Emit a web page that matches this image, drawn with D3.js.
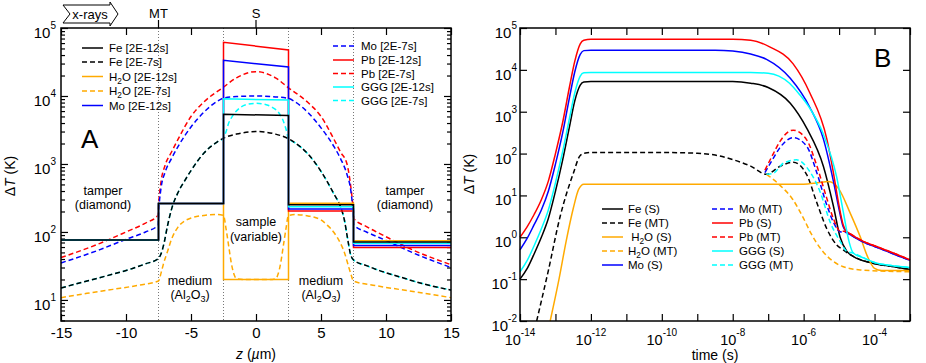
<!DOCTYPE html>
<html>
<head>
<meta charset="utf-8">
<script src="https://cdnjs.cloudflare.com/ajax/libs/d3/7.8.5/d3.min.js"></script>
<style>
  body { margin: 0; background: #fff; }
  svg { font-family: "Liberation Sans", Arial, Helvetica, sans-serif; }
</style>
</head>
<body>
<svg width="926" height="363"></svg>
<script>
/* panel A : temperature vs depth z (um), [z, dT] */
var feA12  = [[-15,76],[-7.5,76],[-7.5,263],[-2.5,263],[-2.5,5400],[2.5,5150],[2.5,252],[7.5,252],[7.5,71],[15,71]];
var h2oA12 = [[-15,76],[-7.5,76],[-7.5,263],[-2.5,263],[-2.5,20],[2.5,20],[2.5,265],[7.5,265],[7.5,74.5],[15,74.5]];
var moA12  = [[-15,76],[-7.5,76],[-7.5,263],[-2.5,263],[-2.5,33500],[2.5,26700],[2.5,218],[7.5,218],[7.5,63],[15,63]];
var pbA12  = [[-15,76],[-7.5,76],[-7.5,263],[-2.5,263],[-2.5,61700],[2.5,47500],[2.5,203],[7.5,203],[7.5,59],[15,59]];
var gggA12 = [[-15,76],[-7.5,76],[-7.5,263],[-2.5,263],[-2.5,9100],[2.5,8700],[2.5,235],[7.5,235],[7.5,68],[15,68]];

var feA7 = [[-15,15],[-13,19],[-11,24],[-9.5,29],[-8.5,34],[-7.55,40],[-7.3,48],[-7.1,65],[-6.8,125],[-6.5,215],
  [-6,380],[-5.5,560],[-5,800],[-4,1450],[-3,2100],[-2.5,2400],[-1.5,2750],[0,3000],[1.5,2750],[2.5,2350],
  [3,2050],[4,1400],[5,780],[5.5,540],[6,360],[6.5,235],[6.8,150],[7,90],[7.3,45],[7.55,38],[8.5,32],[9.5,27],
  [11,22],[13,17],[15,14]];
var gggA7 = [[-15,15],[-13,19],[-11,24],[-9.5,29],[-8.5,34],[-7.55,40],[-7.3,48],[-7.1,65],[-6.8,125],[-6.5,215],
  [-6,380],[-5.5,560],[-5,800],[-4,1450],[-3,2100],[-2.5,2400],[-2.3,3000],[-2.1,4000],[-1.8,5100],[-1.2,6800],
  [-0.6,7600],[0,7800],[0.6,7600],[1.2,6900],[1.8,5500],[2.1,4300],[2.3,3300],[2.5,2350],
  [3,2050],[4,1400],[5,780],[5.5,540],[6,360],[6.5,235],[6.8,150],[7,90],[7.3,45],[7.55,38],[8.5,32],[9.5,27],
  [11,22],[13,17],[15,14]];
var pbA7 = [[-15,42],[-12,68],[-10,100],[-8.5,135],[-7.55,175],[-7.45,320],[-7.3,560],[-7,950],[-6.5,1500],
  [-6,2300],[-5,5000],[-4,8200],[-2.5,13500],[-1.5,18500],[0,22800],[1.5,18500],[2.5,13200],[4,8000],
  [5,5000],[6,2300],[6.5,1500],[7,1000],[7.3,450],[7.45,250],[7.55,155],[8.5,120],[10,85],[12,55],[15,33]];
var moA7 = [[-15,35],[-12,55],[-10,78],[-8.5,100],[-7.55,125],[-7.45,250],[-7.3,450],[-7,750],[-6.5,1200],
  [-6,1800],[-5,3500],[-4,5800],[-3,8300],[-2.5,9300],[-1.5,9800],[0,10000],[1.5,9700],[2.5,9200],[3,8200],
  [4,5700],[5,3400],[6,1800],[6.5,1200],[7,700],[7.3,400],[7.45,220],[7.55,125],[8.5,100],[10,75],[12,50],[15,30]];
var h2oA7 = [[-15,10.8],[-13,12.5],[-11,14.3],[-9,16.5],[-7.5,19],[-7.3,25],[-7.1,35],[-6.8,52],[-6.5,78],
  [-6,118],[-5.5,145],[-5,160],[-4,175],[-3,180],[-2.5,175],[-2.3,110],[-2.1,62],[-1.9,35],[-1.7,24],
  [-1.5,20.5],[-1,20],[0,20],[1,20],[1.5,20.5],[1.7,24],[1.9,35],[2.1,62],[2.3,110],[2.5,175],[3,180],
  [4,172],[5,150],[5.5,125],[6,98],[6.5,68],[6.8,50],[7.1,32],[7.3,24],[7.5,19],[9,16.5],[11,14.3],
  [13,12.5],[15,10.8]];

/* panel B : temperature vs time (s), [t, dT] */
var feS = [[1e-14,0.1],[1.6e-14,0.18],[2.5e-14,0.4],[4e-14,1.0],[6.3e-14,2.8],[1e-13,12.6],[1.6e-13,71],
  [2.5e-13,450],[3.5e-13,1800],[5e-13,4300],[6.3e-13,5100],[1e-12,5250],[1e-8,5250],[3.2e-8,4800],
  [1e-7,3800],[4.2e-7,1600],[1.23e-6,400],[3.6e-6,50],[6.9e-6,5.6],[1.07e-5,1.0],[1.66e-5,0.46],
  [2.5e-5,0.35],[9e-5,0.24],[3.2e-4,0.2],[1e-3,0.17]];
var feMT = [[2.95e-14,0.01],[6.3e-14,0.16],[1.35e-13,3.1],[3.2e-13,34],[5e-13,90],[7e-13,103],[1e-12,106],
  [1e-10,106],[1e-9,102],[3.2e-9,92],[1e-8,72],[3.2e-8,50],[9e-8,32],[2.1e-7,49],[5.1e-7,62],[1.23e-6,31],
  [2.3e-6,7.1],[4.5e-6,1.6],[8.5e-6,0.66],[1.3e-5,0.5],[2.5e-5,0.35],[9e-5,0.24],[3.2e-4,0.2],[1e-3,0.17]];
var h2oS = [[7.1e-14,0.01],[1.26e-13,0.1],[2e-13,0.8],[3.2e-13,5],[4.5e-13,14],[6.3e-13,18.6],[1e-12,18.6],
  [1e-6,18.6],[2.5e-6,20],[5e-6,21.4],[1e-5,14],[2e-5,4],[4e-5,1.0],[6.3e-5,0.35],[1e-4,0.18],[1.6e-4,0.16],
  [1e-3,0.16]];
var h2oMT = [[9e-8,32],[2.1e-7,17.8],[5e-7,7.9],[1e-6,2.8],[1.6e-6,1.26],[3.2e-6,0.5],[6.3e-6,0.28],
  [1.26e-5,0.2],[4e-5,0.166],[1e-3,0.15]];
var moS = [[1e-14,0.5],[1.6e-14,0.95],[2.5e-14,2.0],[4e-14,4.5],[6.3e-14,12.6],[1e-13,56],[1.6e-13,316],
  [2.5e-13,2240],[3.5e-13,8900],[5e-13,23400],[6.3e-13,28800],[1e-12,29500],[3.2e-9,29500],[1e-8,28200],
  [3.2e-8,24000],[9e-8,17800],[4.2e-7,6300],[1.5e-6,1260],[3.6e-6,224],[6.9e-6,22],[1.07e-5,3.5],[1.3e-5,1.8],
  [1.6e-5,1.35],[2e-5,1.17],[5e-5,0.76],[1.15e-4,0.58],[3.4e-4,0.4],[1e-3,0.28]];
var moMT = [[8.1e-8,35],[1.4e-7,78],[2.1e-7,135],[5.1e-7,240],[1.23e-6,148],[2.3e-6,37],[4.5e-6,5.9],
  [6.9e-6,2.3],[1.07e-5,1.35],[1.6e-5,1.3],[2e-5,1.17],[5e-5,0.76],[1.15e-4,0.58],[3.4e-4,0.4],[1e-3,0.28]];
var pbS = [[1e-14,1.0],[1.6e-14,1.8],[2.5e-14,3.5],[4e-14,7.9],[6.3e-14,22],[1e-13,100],[1.6e-13,560],
  [2.5e-13,4000],[3.5e-13,16000],[5e-13,42000],[6.3e-13,51000],[1e-12,53700],[1e-8,53500],[3.2e-8,51000],
  [1.1e-7,35500],[5e-7,14100],[1.5e-6,2800],[4.5e-6,224],[6.9e-6,35],[9.5e-6,7.1],[1.3e-5,2.0],[1.6e-5,1.4],
  [2e-5,1.23],[5e-5,0.79],[1.15e-4,0.6],[3.4e-4,0.42],[1e-3,0.29]];
var pbMT = [[8.1e-8,40],[1.4e-7,100],[2.1e-7,190],[5.1e-7,363],[1.23e-6,210],[2.3e-6,54],[4.5e-6,8.5],
  [6.9e-6,2.8],[1.07e-5,1.4],[1.6e-5,1.38],[2e-5,1.23],[5e-5,0.79],[1.15e-4,0.6],[3.4e-4,0.42],[1e-3,0.29]];
var gggS = [[1e-14,0.15],[1.6e-14,0.28],[2.5e-14,0.63],[4e-14,1.6],[6.3e-14,4.5],[1e-13,20],[1.6e-13,112],
  [2.5e-13,710],[3.5e-13,2800],[5e-13,7100],[6.3e-13,8500],[1e-12,8700],[3.2e-8,8700],[1e-7,8300],[2e-7,7100],
  [4e-7,4800],[7.9e-7,2500],[1.5e-6,1200],[3.6e-6,290],[8.5e-6,28],[1.3e-5,4.2],[1.9e-5,0.8],[2.5e-5,0.42],
  [5e-5,0.32],[1e-4,0.25],[3.2e-4,0.21],[1e-3,0.19]];
var gggMT = [[9e-8,32],[1.4e-7,34],[2.7e-7,59],[6.3e-7,71],[1.5e-6,37],[2.9e-6,12.3],[5.6e-6,2.3],
  [1.07e-5,0.8],[1.66e-5,0.46],[2.5e-5,0.42],[5e-5,0.32],[1e-4,0.25],[3.2e-4,0.21],[1e-3,0.19]];

/* axes ticks / labels */
var zTicks = [-15, -10, -5, 0, 5, 10, 15];
var decadesA = [1e1, 1e2, 1e3, 1e4, 1e5];
var expA = ["1", "2", "3", "4", "5"];
var timeDecades = [1e-14,1e-13,1e-12,1e-11,1e-10,1e-9,1e-8,1e-7,1e-6,1e-5,1e-4,1e-3];
var timeLabels = [[1e-14,"-14"],[1e-12,"-12"],[1e-10,"-10"],[1e-8,"-8"],[1e-6,"-6"],[1e-4,"-4"]];
var decadesB = [1e-2,1e-1,1e0,1e1,1e2,1e3,1e4,1e5];
var expB = ["-2","-1","0","1","2","3","4","5"];
var layerBounds = [-7.5, -2.5, 2.5, 7.5];

var legendA = ["Fe [2E-12s]","Fe [2E-7s]","H_2O [2E-12s]","H_2O [2E-7s]","Mo [2E-12s]",
               "Mo [2E-7s]","Pb [2E-12s]","Pb [2E-7s]","GGG [2E-12s]","GGG [2E-7s]"];
var legendB = ["Fe (S)","Fe (MT)"," H_2O (S)","H_2O (MT)","Mo (S)",
               "Mo (MT)","Pb (S)","Pb (MT)","GGG (S)","GGG (MT)"];

var colors = { Fe: "#000000", H2O: "#ffaa00", Mo: "#0000ff", Pb: "#ff0000", GGG: "#00ffff" };
var legendMats = ["Fe","Fe","H2O","H2O","Mo","Mo","Pb","Pb","GGG","GGG"];

var svg = d3.select("svg");

var xA = d3.scaleLinear().domain([-15, 15]).range([61, 451]);
var yA = d3.scaleLog().domain([4.9, 1e5]).range([321, 28]);
var xB = d3.scaleLog().domain([1e-14, 1e-3]).range([520, 910]);
var yB = d3.scaleLog().domain([1e-2, 1e5]).range([321, 28]);

function rich(sel, str) {
  var parts = str.split(/(_\d)/);
  var sub = false;
  parts.forEach(function(p) {
    if (!p) return;
    if (p[0] === "_") {
      sel.append("tspan").attr("dy", 3).attr("font-size", "0.72em").text(p[1]);
      sub = true;
    } else {
      sel.append("tspan").attr("dy", sub ? -3 : null).text(p.replace(/ /g, "\u00a0"));
      sub = false;
    }
  });
}

function power(sel, exp) {
  sel.append("tspan").text("10");
  sel.append("tspan").attr("dy", -9).attr("font-size", 10).text(exp);
}

function cleanAxis(g) {
  g.select(".domain").remove();
  g.selectAll(".tick line").attr("stroke", "#000").attr("stroke-width", 1.2);
}

function minorTicks(scale) {
  var out = [];
  var dom = scale.domain();
  for (var d = 1e-3; d < 1e6; d *= 10) {
    for (var k = 2; k < 10; k++) {
      var v = d * k;
      if (v > dom[0] && v < dom[1]) out.push(v);
    }
  }
  return out;
}

function drawCurve(g, x, y, data, color, dashed, curve) {
  g.append("path")
    .datum(data)
    .attr("fill", "none")
    .attr("stroke", color)
    .attr("stroke-width", 1.5)
    .attr("stroke-dasharray", dashed ? "5,3" : null)
    .attr("d", d3.line()
      .x(d => x(d[0]))
      .y(d => y(d[1]))
      .curve(curve));
}

// entries alternate solid / dashed through the whole list
function drawLegend(g, labels, mats, start, x1, x2, tx, ys) {
  labels.forEach(function(lab, i) {
    var k = start + i;
    g.append("line")
      .attr("x1", x1).attr("x2", x2)
      .attr("y1", ys[i]).attr("y2", ys[i])
      .attr("stroke", colors[mats[k]])
      .attr("stroke-width", 1.5)
      .attr("stroke-dasharray", k % 2 === 1 ? "5,3" : null);
    var t = g.append("text")
      .attr("x", tx)
      .attr("y", ys[i] + 4)
      .attr("font-size", 11.5);
    rich(t, lab);
  });
}

/* ---------------- panel A ---------------- */
var gA = svg.append("g");

layerBounds.forEach(function(z) {
  gA.append("line")
    .attr("x1", xA(z)).attr("x2", xA(z))
    .attr("y1", 28).attr("y2", 321)
    .attr("stroke", "#777")
    .attr("stroke-width", 1)
    .attr("stroke-dasharray", "1,2");
});

gA.append("g").attr("transform", "translate(0,321)")
  .call(d3.axisBottom(xA).tickValues(zTicks).tickSizeInner(-7).tickSizeOuter(0).tickPadding(6)
    .tickFormat(d => String(d)))
  .call(cleanAxis)
  .call(g => g.selectAll("text").attr("font-size", 15).attr("font-family", null).attr("fill", "#000"));
gA.append("g").attr("transform", "translate(0,28)")
  .call(d3.axisTop(xA).tickValues(zTicks).tickSizeInner(-7).tickSizeOuter(0).tickFormat(""))
  .call(cleanAxis);
gA.append("g").attr("transform", "translate(61,0)")
  .call(d3.axisLeft(yA).tickValues(decadesA).tickSizeInner(-7).tickSizeOuter(0).tickFormat(""))
  .call(cleanAxis);
gA.append("g").attr("transform", "translate(61,0)")
  .call(d3.axisLeft(yA).tickValues(minorTicks(yA)).tickSizeInner(-4).tickSizeOuter(0).tickFormat(""))
  .call(cleanAxis);
gA.append("g").attr("transform", "translate(451,0)")
  .call(d3.axisRight(yA).tickValues(decadesA).tickSizeInner(-7).tickSizeOuter(0).tickFormat(""))
  .call(cleanAxis);
gA.append("g").attr("transform", "translate(451,0)")
  .call(d3.axisRight(yA).tickValues(minorTicks(yA)).tickSizeInner(-4).tickSizeOuter(0).tickFormat(""))
  .call(cleanAxis);

decadesA.forEach(function(v, i) {
  var t = gA.append("text")
    .attr("x", 56).attr("y", yA(v) + 10)
    .attr("text-anchor", "end")
    .attr("font-size", 15);
  power(t, expA[i]);
});

/* dashed (2E-7s) then solid (2E-12s) */
drawCurve(gA, xA, yA, h2oA7, colors.H2O, true, d3.curveMonotoneX);
drawCurve(gA, xA, yA, gggA7, colors.GGG, true, d3.curveMonotoneX);
drawCurve(gA, xA, yA, pbA7, colors.Pb, true, d3.curveMonotoneX);
drawCurve(gA, xA, yA, moA7, colors.Mo, true, d3.curveMonotoneX);
drawCurve(gA, xA, yA, feA7, colors.Fe, true, d3.curveMonotoneX);
drawCurve(gA, xA, yA, h2oA12, colors.H2O, false, d3.curveLinear);
drawCurve(gA, xA, yA, pbA12, colors.Pb, false, d3.curveLinear);
drawCurve(gA, xA, yA, moA12, colors.Mo, false, d3.curveLinear);
drawCurve(gA, xA, yA, gggA12, colors.GGG, false, d3.curveLinear);
drawCurve(gA, xA, yA, feA12, colors.Fe, false, d3.curveLinear);

gA.append("rect")
  .attr("x", 61).attr("y", 28).attr("width", 390).attr("height", 293)
  .attr("fill", "none").attr("stroke", "#000").attr("stroke-width", 1.5);

drawLegend(gA, legendA.slice(0, 5), legendMats, 0, 82, 103, 109, [48, 62, 76.5, 91, 105.5]);
drawLegend(gA, legendA.slice(5), legendMats, 5, 333, 354, 361, [46, 60, 73.5, 87, 100.5]);

/* region notes */
function note(g, x, y, lines) {
  lines.forEach(function(l, i) {
    var t = g.append("text")
      .attr("x", x).attr("y", y + i * 14.5)
      .attr("text-anchor", "middle")
      .attr("font-size", 12.5);
    rich(t, l);
  });
}
note(gA, 103, 194.5, ["tamper", "(diamond)"]);
note(gA, 405, 194.5, ["tamper", "(diamond)"]);
note(gA, 256, 226, ["sample", "(variable)"]);
note(gA, 190, 284.5, ["medium", "(Al_2O_3)"]);
note(gA, 321, 284.5, ["medium", "(Al_2O_3)"]);

gA.append("text").attr("x", 81).attr("y", 148).attr("font-size", 26).text("A");

/* top markers */
[[-7.5, "MT"], [0, "S"]].forEach(function(m) {
  gA.append("line")
    .attr("x1", xA(m[0])).attr("x2", xA(m[0]))
    .attr("y1", 20).attr("y2", 28)
    .attr("stroke", "#000").attr("stroke-width", 1.2);
  gA.append("text")
    .attr("x", xA(m[0])).attr("y", 18)
    .attr("text-anchor", "middle")
    .attr("font-size", 13)
    .text(m[1]);
});

gA.append("path")
  .attr("d", "M63,5 L110,5 L110,2 L118,14 L110,26 L110,23 L63,23 L70,14 Z")
  .attr("fill", "#fff").attr("stroke", "#000").attr("stroke-width", 1);
gA.append("text").attr("x", 90).attr("y", 18.5).attr("text-anchor", "middle")
  .attr("font-size", 13).text("x-rays");

var yt = gA.append("text")
  .attr("transform", "translate(15,176) rotate(-90)")
  .attr("text-anchor", "middle")
  .attr("font-size", 14);
yt.append("tspan").text("\u0394");
yt.append("tspan").attr("font-style", "italic").text("T");
yt.append("tspan").text(" (K)");

var xt = gA.append("text")
  .attr("x", 256).attr("y", 359)
  .attr("text-anchor", "middle")
  .attr("font-size", 14);
xt.append("tspan").attr("font-style", "italic").text("z");
xt.append("tspan").text(" (");
xt.append("tspan").attr("font-style", "italic").text("\u00b5");
xt.append("tspan").text("m)");

/* ---------------- panel B ---------------- */
var gB = svg.append("g");

gB.append("g").attr("transform", "translate(0,321)")
  .call(d3.axisBottom(xB).tickValues(timeDecades).tickSizeInner(-7).tickSizeOuter(0).tickFormat(""))
  .call(cleanAxis);
gB.append("g").attr("transform", "translate(0,28)")
  .call(d3.axisTop(xB).tickValues(timeDecades).tickSizeInner(-7).tickSizeOuter(0).tickFormat(""))
  .call(cleanAxis);
gB.append("g").attr("transform", "translate(520,0)")
  .call(d3.axisLeft(yB).tickValues(decadesB).tickSizeInner(-7).tickSizeOuter(0).tickFormat(""))
  .call(cleanAxis);
gB.append("g").attr("transform", "translate(910,0)")
  .call(d3.axisRight(yB).tickValues(decadesB).tickSizeInner(-7).tickSizeOuter(0).tickFormat(""))
  .call(cleanAxis);

timeLabels.forEach(function(l) {
  var t = gB.append("text")
    .attr("x", xB(l[0])).attr("y", 345)
    .attr("text-anchor", "middle")
    .attr("font-size", 14.5);
  power(t, l[1]);
});
decadesB.forEach(function(v, i) {
  var t = gB.append("text")
    .attr("x", 517).attr("y", yB(v) + 10)
    .attr("text-anchor", "end")
    .attr("font-size", 15);
  power(t, expB[i]);
});

var mono = d3.curveMonotoneX;
drawCurve(gB, xB, yB, feS, colors.Fe, false, mono);
drawCurve(gB, xB, yB, feMT, colors.Fe, true, mono);
drawCurve(gB, xB, yB, h2oS, colors.H2O, false, mono);
drawCurve(gB, xB, yB, h2oMT, colors.H2O, true, mono);
drawCurve(gB, xB, yB, moS, colors.Mo, false, mono);
drawCurve(gB, xB, yB, moMT, colors.Mo, true, mono);
drawCurve(gB, xB, yB, pbS, colors.Pb, false, mono);
drawCurve(gB, xB, yB, pbMT, colors.Pb, true, mono);
drawCurve(gB, xB, yB, gggS, colors.GGG, false, mono);
drawCurve(gB, xB, yB, gggMT, colors.GGG, true, mono);

gB.append("rect")
  .attr("x", 520).attr("y", 28).attr("width", 390).attr("height", 293)
  .attr("fill", "none").attr("stroke", "#000").attr("stroke-width", 1.5);

drawLegend(gB, legendB.slice(0, 5), legendMats, 0, 602, 623, 628, [209, 223, 237, 251, 265]);
drawLegend(gB, legendB.slice(5), legendMats, 5, 712, 733, 739, [209, 223, 237, 251, 265]);

gB.append("text").attr("x", 874).attr("y", 67).attr("font-size", 26).text("B");

var yt2 = gB.append("text")
  .attr("transform", "translate(474,174) rotate(-90)")
  .attr("text-anchor", "middle")
  .attr("font-size", 14);
yt2.append("tspan").text("\u0394");
yt2.append("tspan").attr("font-style", "italic").text("T");
yt2.append("tspan").text(" (K)");

gB.append("text")
  .attr("x", 715).attr("y", 360)
  .attr("text-anchor", "middle")
  .attr("font-size", 14)
  .text("time (s)");
</script>
</body>
</html>
